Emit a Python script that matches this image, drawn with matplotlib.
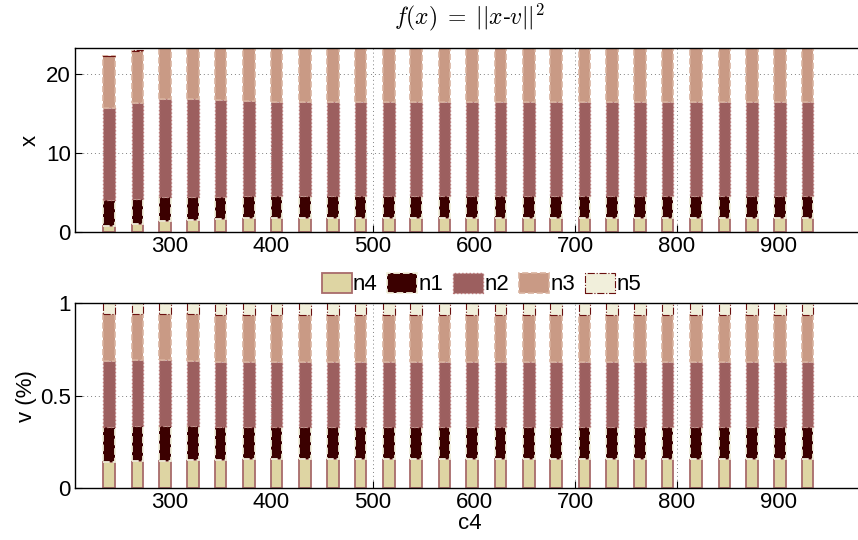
import numpy as np
import matplotlib
matplotlib.use("Agg")
import matplotlib.pyplot as plt

plt.rcParams['font.family'] = ['Liberation Sans', 'DejaVu Sans']
plt.rcParams['mathtext.fontset'] = 'cm'

# c4 positions of the bars
c4 = [240, 268, 295, 323, 350, 378, 405, 433, 461, 488, 516, 543, 571,
      598, 626, 654, 681, 709, 736, 764, 791, 819, 847, 874, 902, 929]

# top panel: segment heights (x)
top_n4 = [0.76, 1.05, 1.35, 1.47, 1.60, 1.73, 1.81, 1.81, 1.81, 1.81, 1.81, 1.81, 1.81,
          1.81, 1.81, 1.81, 1.81, 1.81, 1.81, 1.81, 1.81, 1.81, 1.81, 1.81, 1.81, 1.81]
top_n1 = [3.24, 3.11, 3.06, 2.98, 2.85, 2.77, 2.77, 2.77, 2.75, 2.75, 2.75, 2.75, 2.75,
          2.75, 2.75, 2.75, 2.75, 2.75, 2.75, 2.75, 2.75, 2.75, 2.75, 2.75, 2.75, 2.75]
top_n2 = [11.70, 12.19, 12.45, 12.41, 12.20, 12.00, 11.82, 11.82, 11.84, 11.84, 11.84, 11.84, 11.84,
          11.84, 11.84, 11.84, 11.84, 11.84, 11.84, 11.84, 11.84, 11.84, 11.84, 11.84, 11.84, 11.84]
top_n3 = [6.50, 6.55, 6.60, 6.60, 6.70, 6.80, 6.90, 6.90, 6.90, 6.90, 6.90, 6.90, 6.90,
          6.90, 6.90, 6.90, 6.90, 6.90, 6.90, 6.90, 6.90, 6.90, 6.90, 6.90, 6.90, 6.90]
top_n5 = [0.08] * 26

# bottom panel: shares v (%)
bot_n4 = [0.140, 0.146, 0.149, 0.153, 0.155, 0.156, 0.157, 0.157, 0.157, 0.157, 0.157, 0.157, 0.157,
          0.157, 0.157, 0.157, 0.157, 0.157, 0.157, 0.157, 0.157, 0.157, 0.157, 0.157, 0.157, 0.157]
bot_n1 = [0.193, 0.191, 0.190, 0.182, 0.178, 0.177, 0.176, 0.176, 0.176, 0.176, 0.176, 0.176, 0.176,
          0.176, 0.176, 0.176, 0.176, 0.176, 0.176, 0.176, 0.176, 0.176, 0.176, 0.176, 0.176, 0.176]
bot_n2 = [0.357, 0.356, 0.354, 0.353, 0.352, 0.351, 0.350, 0.350, 0.350, 0.350, 0.350, 0.350, 0.350,
          0.350, 0.350, 0.350, 0.350, 0.350, 0.350, 0.350, 0.350, 0.350, 0.350, 0.350, 0.350, 0.350]
bot_n3 = [0.250, 0.247, 0.247, 0.252, 0.253, 0.253, 0.254, 0.254, 0.254, 0.254, 0.254, 0.254, 0.254,
          0.254, 0.254, 0.254, 0.254, 0.254, 0.254, 0.254, 0.254, 0.254, 0.254, 0.254, 0.254, 0.254]
bot_n5 = [0.060, 0.060, 0.060, 0.060, 0.062, 0.063, 0.063, 0.063, 0.063, 0.063, 0.063, 0.063, 0.063,
          0.063, 0.063, 0.063, 0.063, 0.063, 0.063, 0.063, 0.063, 0.063, 0.063, 0.063, 0.063, 0.063]

names = ['n4', 'n1', 'n2', 'n3', 'n5']
fills = ['#ded5a3', '#3b0000', '#9c5f5f', '#c99a85', '#f1efdb']
edges = ['#a86b6b', '#f1efdb', '#b87575', '#d9b39f', '#6a1010']
styles = ['-', '--', ':', '--', '-.']
widths = [1.3, 1.3, 1.0, 1.2, 0.8]

fig = plt.figure(figsize=(8.58, 5.40), dpi=100)
ax1 = fig.add_axes([0.0874, 0.5704, 0.92, 0.3407])
ax2 = fig.add_axes([0.0874, 0.0957, 0.92, 0.3426])

def stack(ax, segs):
    bottom = np.zeros(len(c4))
    hs = []
    for seg, nm, fc, ec, ls, lw in zip(segs, names, fills, edges, styles, widths):
        h = ax.bar(c4, seg, width=11.5, bottom=bottom, color=fc, edgecolor=ec,
                   linestyle=ls, linewidth=lw, label=nm, zorder=2)
        bottom = bottom + np.array(seg)
        hs.append(h)
    return hs

handles = stack(ax1, [top_n4, top_n1, top_n2, top_n3, top_n5])
stack(ax2, [bot_n4, bot_n1, bot_n2, bot_n3, bot_n5])

for ax in (ax1, ax2):
    ax.set_xlim(206.4, 985)
    ax.set_xticks([300, 400, 500, 600, 700, 800, 900])
    ax.tick_params(direction='in', length=5, labelsize=16, top=False, right=False, pad=3)
    ax.grid(True, linestyle=(0, (1, 3)), color='#808080', linewidth=0.7, zorder=0)
    ax.set_axisbelow(True)
    ax.spines['right'].set_visible(False)
    for s in ax.spines.values():
        s.set_linewidth(1.0)

ax1.set_ylim(0, 23.25)
ax1.set_yticks([0, 10, 20])
ax1.set_ylabel('x', fontsize=16, labelpad=4)
ax1.set_title(r'$f(x)\;=\;||x$-$v||^2$', fontsize=17, pad=17)

ax2.set_ylim(0, 1)
ax2.set_yticks([0, 0.5, 1])
ax2.set_yticklabels(['0', '0.5', '1'])
ax2.set_ylabel('v (%)', fontsize=16, labelpad=2)
ax2.set_xlabel('c4', fontsize=16, labelpad=0)

fig.legend(handles, names, loc='center', bbox_to_anchor=(0.561, 0.474), ncol=5,
           frameon=False, fontsize=16, handlelength=1.35, handleheight=1.0,
           handletextpad=0.05, columnspacing=0.45, borderpad=0.1)

fig.savefig('out.png', dpi=100)
